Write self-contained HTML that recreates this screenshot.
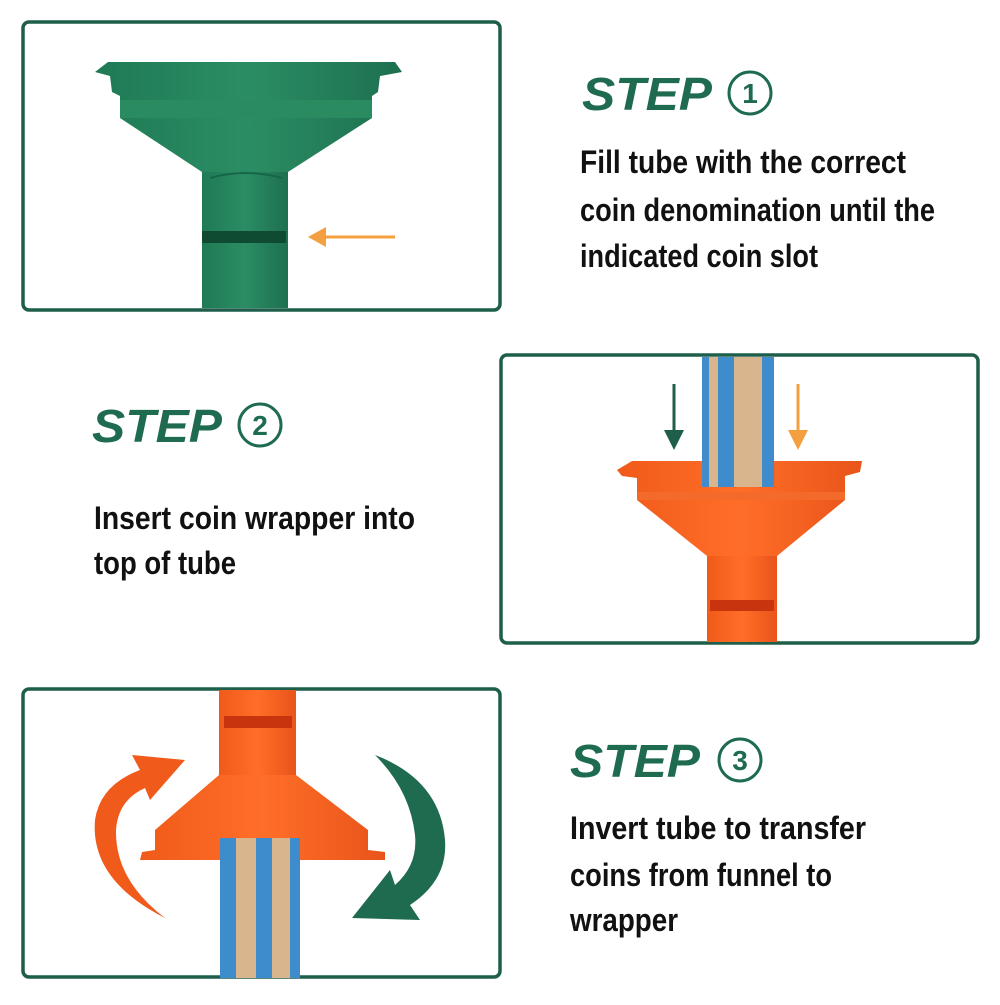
<!DOCTYPE html>
<html><head><meta charset="utf-8"><style>html,body{margin:0;padding:0;background:#fff}</style></head>
<body>
<svg width="1000" height="1000" viewBox="0 0 1000 1000" xmlns="http://www.w3.org/2000/svg">
<defs>
<linearGradient id="g" x1="0" x2="1"><stop offset="0" stop-color="#1f7a55"/><stop offset=".5" stop-color="#2b8d63"/><stop offset="1" stop-color="#1d7050"/></linearGradient>
<linearGradient id="o" x1="0" x2="1"><stop offset="0" stop-color="#f05a1a"/><stop offset=".5" stop-color="#ff6e28"/><stop offset="1" stop-color="#e8541a"/></linearGradient>
</defs>
<g fill="none" stroke="#1f5e4a" stroke-width="3.5">
<rect x="23" y="22" width="477" height="288" rx="6"/>
<rect x="501" y="355" width="477" height="288" rx="6"/>
<rect x="23" y="689" width="477" height="288" rx="6"/>
</g>
<!-- box1 green funnel -->
<rect x="202" y="170" width="86" height="138" fill="url(#g)"/>
<rect x="202" y="231" width="84" height="12" fill="#0f4a33"/>
<path d="M95 72 L108 62 L395 62 L402 72 L380 76 L378 92 L372 96 L372 118 L288 172 L202 172 L120 118 L120 96 L112 92 L110 76 Z" fill="url(#g)"/>
<path d="M120 100 L372 100 L372 118 L120 118 Z" fill="#2a8a60"/>
<path d="M210 178 Q245 168 282 178" stroke="#17664a" stroke-width="2" fill="none"/>
<path d="M395 237 L322 237" stroke="#f5a040" stroke-width="3"/>
<path d="M308 237 L326 227 L326 247 Z" fill="#f5a040"/>
<!-- box2 orange -->
<rect x="707" y="555" width="70" height="87" fill="url(#o)"/>
<rect x="710" y="600" width="64" height="11" fill="#c8340e"/>
<path d="M617 470 L632 461 L862 461 L860 472 L845 476 L845 500 L777 556 L707 556 L637 500 L637 478 L622 476 Z" fill="url(#o)"/>
<path d="M637 492 L845 492 L845 500 L637 500 Z" fill="#f46a2a"/>
<rect x="702" y="357" width="72" height="130" fill="#d8b58c"/>
<rect x="718" y="357" width="16" height="130" fill="#3f8ccc"/>
<rect x="762" y="357" width="12" height="130" fill="#3f8ccc"/>
<rect x="702" y="357" width="7" height="130" fill="#3f8ccc"/>
<path d="M674 384 L674 430" stroke="#1f5e4a" stroke-width="3"/><path d="M664 430 L684 430 L674 450 Z" fill="#1f5e4a"/>
<path d="M798 384 L798 430" stroke="#f5a040" stroke-width="3"/><path d="M788 430 L808 430 L798 450 Z" fill="#f5a040"/>
<!-- box3 inverted -->
<rect x="219" y="690" width="77" height="90" fill="url(#o)"/>
<rect x="224" y="716" width="68" height="12" fill="#c8340e"/>
<path d="M219 775 L296 775 L368 830 L368 850 L385 852 L385 860 L140 860 L142 852 L155 850 L155 830 Z" fill="url(#o)"/>
<rect x="220" y="838" width="80" height="140" fill="#d8b58c"/>
<rect x="220" y="838" width="16" height="140" fill="#3f8ccc"/>
<rect x="256" y="838" width="16" height="140" fill="#3f8ccc"/>
<rect x="290" y="838" width="10" height="140" fill="#3f8ccc"/>
<path d="M165 918 Q90 880 95 820 Q100 785 140 770 L132 755 L185 760 L150 800 L145 788 Q118 800 116 830 Q115 880 165 918 Z" fill="#f05a1a"/>
<path d="M375 755 Q440 780 445 840 Q448 880 410 905 L420 920 L352 918 L390 870 L395 885 Q418 865 415 835 Q410 790 375 755 Z" fill="#1f6b50"/>
<!-- text -->
<g font-family="Liberation Sans, sans-serif" font-weight="bold" font-style="italic" fill="#1f6b50" font-size="46">
<text x="582" y="110" textLength="130" lengthAdjust="spacingAndGlyphs">STEP</text>
<text x="92" y="442" textLength="130" lengthAdjust="spacingAndGlyphs">STEP</text>
<text x="570" y="777" textLength="130" lengthAdjust="spacingAndGlyphs">STEP</text>
</g>
<g fill="none" stroke="#1f6b50" stroke-width="3"><circle cx="750" cy="93" r="21"/><circle cx="260" cy="425" r="21"/><circle cx="740" cy="760" r="21"/></g>
<g font-family="Liberation Sans, sans-serif" font-weight="bold" fill="#1f6b50" font-size="28" text-anchor="middle">
<text x="750" y="103">1</text><text x="260" y="435">2</text><text x="740" y="770">3</text>
</g>
<g font-family="Liberation Sans Narrow, Liberation Sans, sans-serif" font-weight="bold" fill="#111" font-size="32">
<text x="580" y="173" textLength="326" lengthAdjust="spacingAndGlyphs">Fill tube with the correct</text>
<text x="580" y="221" textLength="355" lengthAdjust="spacingAndGlyphs">coin denomination until the</text>
<text x="580" y="267" textLength="238" lengthAdjust="spacingAndGlyphs">indicated coin slot</text>
<text x="94" y="529" textLength="321" lengthAdjust="spacingAndGlyphs">Insert coin wrapper into</text>
<text x="94" y="574" textLength="142" lengthAdjust="spacingAndGlyphs">top of tube</text>
<text x="570" y="839" textLength="296" lengthAdjust="spacingAndGlyphs">Invert tube to transfer</text>
<text x="570" y="886" textLength="262" lengthAdjust="spacingAndGlyphs">coins from funnel to</text>
<text x="570" y="931" textLength="108" lengthAdjust="spacingAndGlyphs">wrapper</text>
</g>
</svg>
</body></html>
